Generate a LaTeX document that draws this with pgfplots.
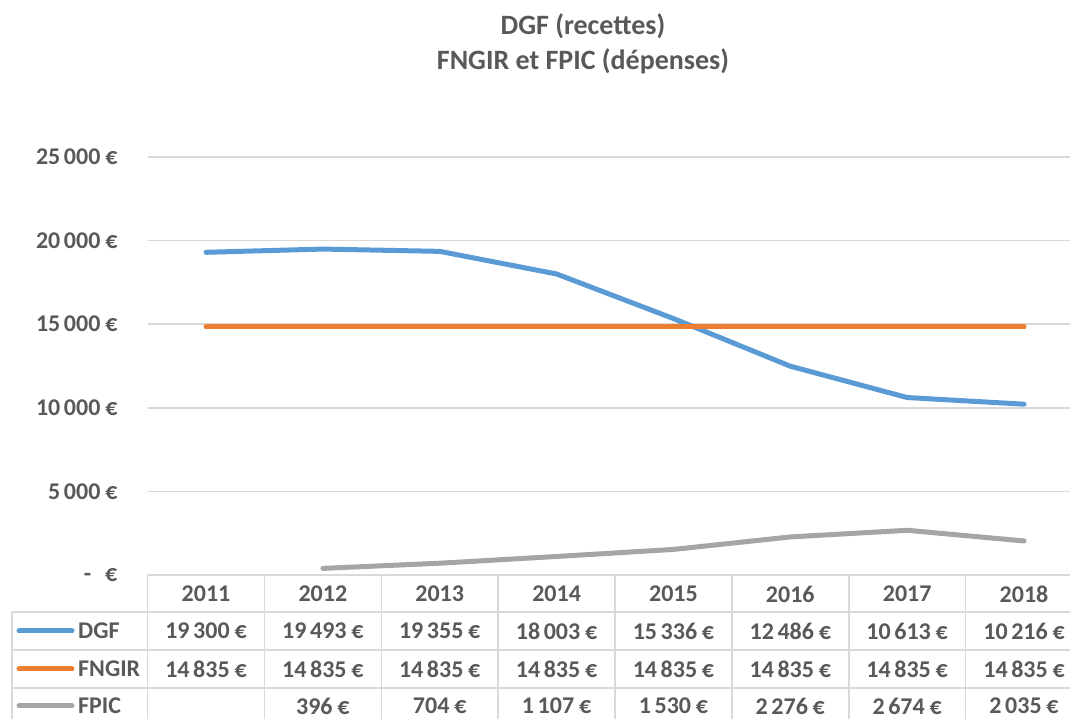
\documentclass[border=0pt]{standalone}
\usepackage{pgfplots}
\pgfplotsset{compat=1.18}
\usepackage{fontspec}
\setmainfont{Carlito}
\definecolor{txt}{HTML}{595959}
\definecolor{gridc}{HTML}{D9D9D9}
\definecolor{cDGF}{HTML}{5B9BD5}
\definecolor{cFNGIR}{HTML}{ED7D31}
\definecolor{cFPIC}{HTML}{A5A5A5}
\newcommand{\tf}{\fontsize{24}{28}\selectfont\bfseries\color{txt}}
\newcommand{\eu}{\kern0.2em€}
\newcommand{\ts}{\kern0.15em}
\begin{document}
\begin{tikzpicture}
\useasboundingbox (0pt,0pt) rectangle (1070pt,719pt);
\begin{axis}[
  at={(147.6pt,144pt)}, anchor=south west,
  scale only axis, width=922.4pt, height=418pt,
  xmin=-0.5, xmax=7.393, ymin=0, ymax=25000,
  clip=false,
  axis line style={draw=none},
  xtick=\empty,
  scaled y ticks=false,
  ytick={0,5000,10000,15000,20000,25000},
  yticklabels={{-\hspace{14pt}€},{5\ts 000\eu},{10\ts 000\eu},{15\ts 000\eu},{20\ts 000\eu},{25\ts 000\eu}},
  yticklabel style={font=\tf, inner sep=0pt, xshift=-30pt, anchor=east},
  major tick length=0pt,
  ymajorgrids,
  grid style={gridc, line width=1.5pt},
]
\addplot[cDGF, line width=5pt, line join=round, line cap=round] coordinates {
  (0,19300) (1,19493) (2,19355) (3,18003) (4,15336) (5,12486) (6,10613) (7,10216)};
\addplot[cFNGIR, line width=5pt, line join=round, line cap=round] coordinates {
  (0,14835) (1,14835) (2,14835) (3,14835) (4,14835) (5,14835) (6,14835) (7,14835)};
\addplot[cFPIC, line width=5pt, line join=round, line cap=round] coordinates {
  (1,396) (2,704) (3,1107) (4,1530) (5,2276) (6,2674) (7,2035)};
\end{axis}
% title
\node[font=\fontsize{28}{32}\selectfont\bfseries\color{txt}, anchor=base] at (583pt,684pt) {DGF (recettes)};
\node[font=\fontsize{28}{32}\selectfont\bfseries\color{txt}, anchor=base] at (583pt,649pt) {FNGIR et FPIC (dépenses)};
% data table grid
\begin{scope}[gridc, line width=1.5pt]
\draw (147.6pt,144pt) -- (1070pt,144pt);
\draw (12pt,107pt) -- (1070pt,107pt);
\draw (12pt,69pt) -- (1070pt,69pt);
\draw (12pt,31pt) -- (1070pt,31pt);
\draw (12pt,107pt) -- (12pt,0pt);
\foreach \k in {0,...,7} {
  \draw ({147.6pt+\k*116.86pt},144pt) -- ({147.6pt+\k*116.86pt},0pt);
}
\end{scope}
% header years
\foreach \y [count=\i from 0] in {2011,2012,2013,2014,2015,2016,2017,2018} {
  \node[font=\tf] at ({206pt+\i*116.86pt},125pt) {\y};
}
% legend keys
\draw[cDGF, line width=5pt, line cap=round] (19pt,88pt) -- (72pt,88pt);
\draw[cFNGIR, line width=5pt, line cap=round] (19pt,50pt) -- (72pt,50pt);
\draw[cFPIC, line width=5pt, line cap=round] (19pt,13pt) -- (72pt,13pt);
\node[font=\tf, anchor=west, inner sep=0pt] at (78pt,88pt) {DGF};
\node[font=\tf, anchor=west, inner sep=0pt] at (78pt,50pt) {FNGIR};
\node[font=\tf, anchor=west, inner sep=0pt] at (78pt,13pt) {FPIC};
% values
\foreach \v [count=\i from 0] in {19\ts 300\eu,19\ts 493\eu,19\ts 355\eu,18\ts 003\eu,15\ts 336\eu,12\ts 486\eu,10\ts 613\eu,10\ts 216\eu} {
  \node[font=\tf] at ({206pt+\i*116.86pt},88pt) {\v};
}
\foreach \i in {0,...,7} {
  \node[font=\tf] at ({206pt+\i*116.86pt},50pt) {14\ts 835\eu};
}
\foreach \v [count=\i from 1] in {396\eu,704\eu,1\ts 107\eu,1\ts 530\eu,2\ts 276\eu,2\ts 674\eu,2\ts 035\eu} {
  \node[font=\tf] at ({206pt+\i*116.86pt},13pt) {\v};
}
\end{tikzpicture}
\end{document}
